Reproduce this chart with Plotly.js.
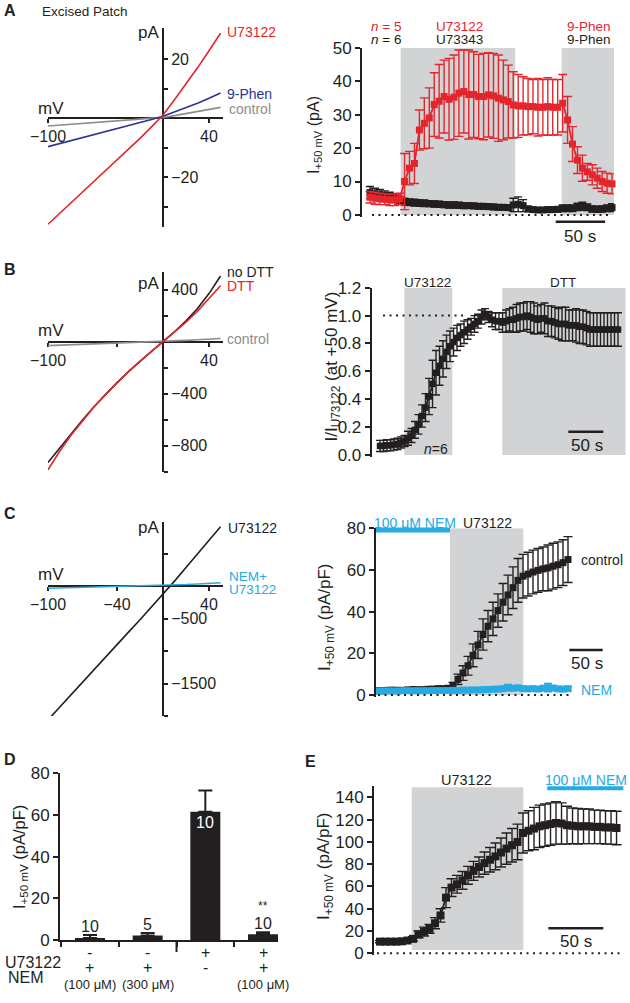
<!DOCTYPE html>
<html><head><meta charset="utf-8">
<script src="https://cdn.plot.ly/plotly-3.0.1.min.js"></script>
<style>html,body{margin:0;padding:0;background:#fff;}#chart{width:630px;height:1003px;}</style>
</head><body><div id="chart"></div>
<script>
const W = 630, H = 1003;
const fx = px => px / W;
const fy = py => 1 - py / H;
const FONT = 'Arial, "Liberation Sans", Helvetica, sans-serif';
const INK = '#231f20', RED = '#e5252c', NAVY = '#2e3192', GREY = '#8c8c8c', CYAN = '#27aae1', SHADE = '#d1d3d4';

// ---------- Panels A–C (left): current–voltage relations (mV, pA) ----------
const ivVoltage   = [-100,-90,-80,-70,-60,-50,-40,-30,-20,-10,0,10,20,30,40,50];
const ivA_control = [-2.7,-2.4,-2.1,-1.9,-1.6,-1.3,-1.05,-0.8,-0.5,-0.2,0.2,0.8,1.5,2.2,2.9,3.6];
const ivA_9Phen   = [-9.7,-8.7,-7.7,-6.7,-5.7,-4.7,-3.7,-2.7,-1.7,-0.5,0.6,2.0,3.5,5.0,6.7,8.5];
const ivA_U73122  = [-36,-32.4,-28.8,-25.2,-21.6,-18,-14.3,-10.6,-6.9,-3,1,6.2,11.5,17,22.8,28.7];
const ivB_control = [-30,-27,-24,-21,-18,-15,-12,-9,-6,-3,0,5,10,15,20,25];
const ivB_noDTT   = [-930,-820,-710,-602,-500,-405,-315,-230,-150,-75,0,75,160,255,370,505];
const ivB_DTT     = [-985,-845,-720,-608,-502,-405,-315,-230,-150,-75,0,72,150,235,330,430];
const ivC_U73122  = [-2060,-1865,-1670,-1475,-1280,-1090,-900,-710,-520,-325,-130,75,285,495,705,910];
const ivC_NEM     = [-35,-31,-26,-21,-17,-12,-8,-4,0,4,8,15,22,31,40,50];

// ---------- Panel A (right): I+50mV (pA), sampled every 5 s ----------
const A_DT = 5;
const aU73122     = [5.3,5.0,4.8,4.7,4.5,4.5,4.8,10,14,15.4,25.4,27.4,29,33,34,35.4,34.6,35.2,36.4,36.9,36,36,35.4,35.4,35.9,35.6,34.9,34.4,33.9,32.9,32.6,32.6,32.4,32.4,32.2,32.2,32.4,32.2,32.2,33.4,28.4,21.2,16.4,14,12.9,12,11,10,9.5,9.3];
const aU73122_sem = [1.7,1.8,1.7,1.6,1.7,1.7,1.7,8.4,5,6,6,7.6,9,9.5,11,10.9,12.2,12.6,12.9,12.4,13.3,12.8,12.6,12.9,12.6,12.7,12.9,11.9,10.9,9.9,9.4,8.7,8.4,8.1,8.6,8.3,8.6,8.3,8.3,8.6,7,5.2,4,3.9,2.5,3,3,3,3,3];
const aU73343     = [6.7,6.4,6.1,5.8,5.5,5.2,4.5,4.0,3.8,3.7,3.6,3.5,3.4,3.3,3.2,3.1,3.0,3.0,2.9,2.8,2.8,2.7,2.6,2.6,2.5,2.4,2.3,2.3,2.2,3.0,3.2,2.8,1.8,1.6,1.5,1.5,1.6,1.6,1.7,2.0,2.0,2.0,2.4,2.6,2.3,1.8,1.7,1.8,2.0,2.2];
const aU73343_sem = [1.8,1.6,1.5,1.4,1.3,1.2,1.1,1.0,1.0,1.0,1.0,1.0,0.9,0.9,0.9,0.9,0.9,0.9,0.9,0.9,0.8,0.8,0.8,0.8,0.8,0.8,0.8,0.8,0.8,2.0,2.2,1.8,0.8,0.7,0.7,0.7,0.7,0.8,0.8,1.0,1.0,1.0,1.1,1.2,1.0,0.9,0.9,0.9,1.0,1.2];
const aApplications = [[31, 147], [194, 247]];   // s: U73122/U73343, 9-Phen

// ---------- Panel B (right): I / I_U73122 at +50 mV, every 5 s ----------
const B_DT = 5;
const bNorm = [0.065,0.065,0.07,0.07,0.075,0.08,0.09,0.1,0.12,0.14,0.18,0.22,0.28,0.34,0.42,0.51,0.59,0.64,0.69,0.74,0.78,0.81,0.84,0.86,0.88,0.9,0.92,0.94,0.96,0.99,1.01,0.99,0.97,0.96,0.96,0.95,0.96,0.97,0.97,0.98,0.99,0.99,1.0,0.99,0.98,0.97,0.98,0.98,0.96,0.96,0.95,0.94,0.94,0.94,0.93,0.93,0.93,0.92,0.92,0.91,0.9,0.9,0.9,0.9,0.9,0.9,0.9,0.9,0.9];
const bNorm_sem = [0.04,0.04,0.04,0.04,0.04,0.04,0.04,0.04,0.05,0.05,0.06,0.07,0.08,0.1,0.13,0.17,0.16,0.14,0.13,0.12,0.11,0.1,0.09,0.08,0.08,0.07,0.06,0.06,0.05,0.05,0.04,0.04,0.05,0.06,0.06,0.07,0.08,0.08,0.09,0.1,0.1,0.1,0.1,0.11,0.11,0.1,0.1,0.11,0.11,0.11,0.11,0.11,0.12,0.12,0.11,0.11,0.12,0.12,0.12,0.12,0.12,0.12,0.12,0.12,0.12,0.12,0.12,0.12,0.12];
const bApplications = [[34.7, 103.3], [174.7, 351]];   // s: U73122, DTT

// ---------- Panel C (right): I+50mV (pA/pF), every 7.5 s ----------
const C_DT = 7.5;
const cControl     = [2.0,2.0,2.2,2.3,2.2,2.2,2.4,2.6,2.5,2.5,2.7,2.8,3.0,3.0,3.2,4.5,7.5,10.5,14,19,24,29,33,36.5,40.5,44.5,48,51.5,55,57,58,59,59.8,60.5,61,61.8,62.5,63.5,65];
const cControl_sem = [0.8,0.8,0.8,0.8,0.8,0.8,0.8,0.8,0.8,0.8,0.8,0.8,0.8,0.8,0.8,1.5,2.5,3.5,4.5,5.5,6.5,7.5,7.5,8,8,9,9.5,10,10.5,10.5,10.5,10.5,10.5,10.5,11,11,11,11,11];
const cNEM         = [1.8,1.8,1.9,1.9,1.9,2.0,2.0,2.0,2.0,2.0,2.0,2.1,2.1,2.1,2.1,2.2,2.2,2.3,2.3,2.4,2.4,2.5,2.6,2.7,2.8,3.0,3.5,3.2,3.4,3.0,2.9,3.0,2.8,3.2,3.5,3.3,2.9,2.8,3.0];
const cNEM_sem     = [0.3,0.3,0.3,0.3,0.3,0.3,0.3,0.3,0.3,0.3,0.3,0.3,0.3,0.3,0.3,0.3,0.3,0.3,0.3,0.3,0.4,0.5,0.5,0.6,0.7,0.8,1.5,1.0,0.8,0.8,0.7,0.8,0.8,0.9,2.0,1.0,0.8,0.8,0.8];
const cU73122 = [108, 218];   // s
const cNEMpre = [-3, 108];    // s

// ---------- Panel D: summary bars ----------
const dGroups  = ['NEM 100 µM', 'NEM 300 µM', 'U73122', 'U73122 + NEM 100 µM'];
const dMean    = [0.9, 2.2, 61.5, 2.7];
const dSEM     = [1.5, 1.2, 10.2, 1.0];
const dN       = ['10', '5', '10', '10'];
const dU73122  = ['-', '-', '+', '+'];
const dNEM     = ['+', '+', '-', '+'];
const dConc    = ['(100 μM)', '(300 μM)', '', '(100 μM)'];

// ---------- Panel E: I+50mV (pA/pF), every 5 s ----------
const E_DT = 5;
const eMean = [10.5,10.5,10.5,10.5,10.8,11.5,13,17,19.5,22,27,34,50,59,62,65.5,70,74,77.5,81,84,87,90.5,94,97,100,108,110,112,114,115,116,117,116.5,115,114.5,114,114,114,113.5,113.5,113,113,112.5];
const eSEM  = [1,1,1,1,1,1.5,2,3,4,4,5,6,9,8,8,8,8,8.5,9,10,11,12,13,14,15,16,18,18,19,19,19,19,19,18.5,17,16,16,15.5,15.5,15,15,15,15,15];
const eU73122 = [28.8, 130.3];
const eNEM    = [152, 221.2];

// ---------- helpers ----------
const tf = (s) => ({family: FONT, size: s, color: INK});
const base = {showgrid:false, zeroline:false, fixedrange:true, showline:true, linecolor:INK, linewidth:2,
  ticks:'outside', tickcolor:INK, tickwidth:2, ticklen:5, tickfont: tf(17)};
const minorT = (vals) => ({tickvals: vals, ticks:'outside', ticklen:4, tickwidth:2, tickcolor:INK, showgrid:false});
const ivX = (posPx, vals, minor) => Object.assign({}, base, {domain:[fx(48), fx(222.8)], range:[-100, 52],
  anchor:'free', position: fy(posPx), tickmode:'array', tickvals: vals, ticklen:4, tickfont: tf(16),
  layer:'below traces', minor: minorT(minor)});
const ivY = (topPx, botPx, range, vals, minor) => Object.assign({}, base, {domain:[fy(botPx), fy(topPx)], range: range,
  anchor:'free', position: fx(163), side:'right', tickmode:'array', tickvals: vals, ticklen:4, tickfont: tf(16),
  layer:'below traces', minor: minorT(minor)});
const hidX = (l, r, range) => ({domain:[fx(l), fx(r)], range: range, visible:false, fixedrange:true});
const lab = (text, px, py, size, color, xa, extra) => Object.assign({text: text, xref:'paper', yref:'paper',
  x: fx(px), y: fy(py), xanchor: xa || 'center', yanchor:'middle', showarrow:false, borderpad:0,
  font:{family: FONT, size: size, color: color || INK}}, extra || {});
const rot = {textangle: -90};

function tc(y, sem, dt, ax, color, msize, cap) {
  return {type:'scatter', mode:'lines+markers', x0:0, dx:dt, y:y, xaxis:'x'+ax, yaxis:'y'+ax,
    line:{color:color, width:1.8}, marker:{symbol:'square', size:msize, color:color},
    error_y:{type:'data', array:sem, color:color, thickness:1.4, width:cap}, cliponaxis:false};
}
function iv(y, ax, color) {
  return {type:'scatter', mode:'lines', x:ivVoltage, y:y, xaxis:'x'+ax, yaxis:'y'+ax, line:{color:color, width:1.6}};
}

const traces = [
  iv(ivA_control, '', GREY), iv(ivA_9Phen, '', NAVY), iv(ivA_U73122, '', RED),
  tc(aU73343, aU73343_sem, A_DT, '2', INK, 7, 4), tc(aU73122, aU73122_sem, A_DT, '2', RED, 7, 4.5),
  iv(ivB_control, '3', GREY), iv(ivB_noDTT, '3', INK), iv(ivB_DTT, '3', RED),
  tc(bNorm, bNorm_sem, B_DT, '4', INK, 6.5, 4),
  iv(ivC_U73122, '5', INK), iv(ivC_NEM, '5', CYAN),
  tc(cControl, cControl_sem, C_DT, '6', INK, 7, 4.5), tc(cNEM, cNEM_sem, C_DT, '6', CYAN, 7, 4),
  {type:'bar', x:dGroups, y:dMean, xaxis:'x7', yaxis:'y7', width:0.52, marker:{color:INK},
   error_y:{type:'data', symmetric:false, array:dSEM, arrayminus:[0,0,0,0], color:INK, thickness:2, width:7}},
  tc(eMean, eSEM, E_DT, '8', INK, 8, 5)
];
traces.forEach(t => { t.hoverinfo = 'skip'; t.showlegend = false; });
[0, 1, 2].forEach(i => { traces[i].xaxis = 'x'; traces[i].yaxis = 'y'; });

const shapes = [];
const band = (ax, x, y0, y1) => shapes.push({type:'rect', xref:'x'+ax, yref:'y'+ax, x0:x[0], x1:x[1], y0:y0, y1:y1,
  fillcolor:SHADE, line:{width:0}, layer:'below'});
const dots = (ax, x0, x1, y) => shapes.push({type:'line', xref:'x'+ax, yref:'y'+ax, x0:x0, x1:x1, y0:y, y1:y,
  line:{color:INK, width:2, dash:'2px,4.5px'}});
const hbar = (ax, x0, x1, py, color, w) => shapes.push({type:'line', xref:'x'+ax, yref:'paper', x0:x0, x1:x1,
  y0:fy(py), y1:fy(py), line:{color:color, width:w}});

aApplications.forEach(a => band('2', a, 0, 50));
bApplications.forEach(a => band('4', a, 0, 1.2));
band('6', cU73122, 0, 80);
band('8', eU73122, 3, 149);
dots('2', 2, 245, 0); dots('4', 4.3, 124.3, 1); dots('6', 0, 288, 0); dots('8', -2.7, 220, 0);
hbar('2', 188, 238, 221.7, INK, 2.5);
hbar('4', 269, 319, 431.7, INK, 2.5);
hbar('6', 287, 337, 650, INK, 2.5);
hbar('8', 153, 203, 928.3, INK, 2.5);
hbar('6', cNEMpre[0], cNEMpre[1], 530, CYAN, 5);
hbar('8', eNEM[0], eNEM[1], 788.3, CYAN, 4);
// longer separator tick between the NEM-only and U73122 groups in panel D
shapes.push({type:'line', xref:'x7', yref:'paper', x0:1.5, x1:1.5, y0:fy(940), y1:fy(952), line:{color:INK, width:2}});

const ann = [
  // A left
  lab('<b>A</b>', 3, 10, 16, INK, 'left'),
  lab('Excised Patch', 41, 11, 13.5, INK, 'left'),
  lab('pA', 160, 32, 17, INK, 'right'),
  lab('mV', 37, 108, 17, INK, 'left'),
  lab('U73122', 226, 32, 14, RED, 'left'),
  lab('9-Phen', 226, 94, 14, NAVY, 'left'),
  lab('control', 228, 109, 14, GREY, 'left'),
  // A right
  lab('<i>n</i> = 5', 386, 26.5, 13.5, RED), lab('<i>n</i> = 6', 386, 40, 13.5, INK),
  lab('U73122', 459, 26.5, 13.5, RED), lab('U73343', 459, 40, 13.5, INK),
  lab('9-Phen', 589, 26.5, 13.5, RED), lab('9-Phen', 589, 40, 13.5, INK),
  lab('I<sub>+50 mV</sub> (pA)', 315, 135, 16, INK, 'center', rot),
  lab('50 s', 580, 236, 17),
  // B left
  lab('<b>B</b>', 3, 270, 16, INK, 'left'),
  lab('pA', 160, 283.5, 17, INK, 'right'),
  lab('mV', 37, 331, 17, INK, 'left'),
  lab('no DTT', 226, 272, 14, INK, 'left'),
  lab('DTT', 226, 286, 14, RED, 'left'),
  lab('control', 226, 339, 14, GREY, 'left'),
  // B right
  lab('U73122', 427, 283, 13.5), lab('DTT', 563, 283, 13.5),
  lab('<i>n</i>=6', 435.5, 449, 14),
  lab('50 s', 587, 445.5, 17),
  lab('I/I<sub>U73122</sub> (at +50 mV)', 332.5, 367, 17, INK, 'center', rot),
  // C left
  lab('<b>C</b>', 3, 513, 16, INK, 'left'),
  lab('pA', 160, 527.5, 17, INK, 'right'),
  lab('mV', 37, 574.5, 17, INK, 'left'),
  lab('U73122', 227, 528, 14, INK, 'left'),
  lab('NEM+', 228, 576.5, 13.5, CYAN, 'left'),
  lab('U73122', 228, 589, 13.5, CYAN, 'left'),
  // C right
  lab('100 μM NEM', 415, 522.5, 14, CYAN), lab('U73122', 487.5, 522.5, 14),
  lab('control', 580, 560, 14, INK, 'left'),
  lab('NEM', 580, 690, 14, CYAN, 'left'),
  lab('50 s', 587, 663, 17),
  lab('I<sub>+50 mV</sub> (pA/pF)', 326, 618, 17, INK, 'center', rot),
  // D
  lab('<b>D</b>', 3, 759, 16, INK, 'left'),
  lab('I<sub>+50 mV</sub> (pA/pF)', 20, 857, 16.5, INK, 'center', rot),
  lab('U73122', 4, 962, 16, INK, 'left'),
  lab('NEM', 7, 977, 16, INK, 'left'),
  // E
  lab('<b>E</b>', 304, 761, 16, INK, 'left'),
  lab('U73122', 466, 780, 14.5), lab('100 μM NEM', 586, 780, 14, CYAN),
  lab('50 s', 576, 941.5, 17),
  lab('I<sub>+50 mV</sub> (pA/pF)', 325, 867, 17, INK, 'center', rot)
];
dGroups.forEach((g, i) => {
  const inside = dMean[i] > 30;
  ann.push({text: dN[i], xref:'x7', yref:'y7', x:g, y: inside ? dMean[i] : dMean[i] + dSEM[i],
    yanchor: inside ? 'top' : 'bottom', xanchor:'center', showarrow:false, yshift:-1, borderpad:0,
    font:{family:FONT, size:16, color: inside ? '#ffffff' : INK}});
  ann.push({text: dU73122[i], xref:'x7', yref:'paper', x:g, y:fy(962), showarrow:false, borderpad:0, font:tf(16)});
  ann.push({text: dNEM[i], xref:'x7', yref:'paper', x:g, y:fy(977), showarrow:false, borderpad:0, font:tf(16)});
  if (dConc[i]) ann.push({text: dConc[i], xref:'x7', yref:'paper', x:g, y:fy(993), showarrow:false, borderpad:0, font:tf(13)});
});
ann.push({text:'**', xref:'x7', yref:'paper', x:dGroups[3], y:fy(914), showarrow:false, borderpad:0, font:tf(12)});

const layout = {
  width: W, height: H, margin:{l:0, r:0, t:0, b:0}, showlegend:false,
  paper_bgcolor:'#ffffff', plot_bgcolor:'rgba(0,0,0,0)', font:{family:FONT, color:INK},
  xaxis:  ivX(118, [-100, 40], []),
  yaxis:  ivY(28, 227.2, [-37, 30.5], [-20, 20], [-30, -10, 10]),
  xaxis3: ivX(341.7, [-100, 40], [-40]),
  yaxis3: ivY(271.5, 471.7, [-1000, 540], [-800, -400, 400], [-1000, -600, -200, 200]),
  xaxis5: ivX(586, [-100, -40, 40], []),
  yaxis5: ivY(521.65, 716, [-2000, 990], [-1500, -500], [-2000, -1000, 500]),
  xaxis2: hidX(362, 614, [-8.1, 247]),
  yaxis2: Object.assign({}, base, {domain:[fy(217), fy(47.7)], range:[-0.6, 50], anchor:'x2', tickvals:[0,10,20,30,40,50]}),
  xaxis4: hidX(371.7, 625.7, [-11.9, 351]),
  yaxis4: Object.assign({}, base, {domain:[fy(456.7), fy(287.7)], range:[-0.012, 1.2], anchor:'x4',
    tickvals:[0,0.2,0.4,0.6,0.8,1.0,1.2], tickformat:'.1f'}),
  xaxis6: hidX(376, 625, [-3, 370.5]),
  yaxis6: Object.assign({}, base, {domain:[fy(697), fy(528.3)], range:[-1, 80], anchor:'x6', tickvals:[0,20,40,60,80]}),
  xaxis7: Object.assign({}, base, {domain:[fx(60), fx(278)], range:[-0.52, 3.26], type:'category', anchor:'y7',
    tickson:'boundaries', showticklabels:false, ticklen:5}),
  yaxis7: Object.assign({}, base, {domain:[fy(940), fy(773.3)], range:[0, 80], anchor:'x7', tickvals:[0,20,40,60,80]}),
  xaxis8: hidX(374, 625, [-5.45, 222.7]),
  yaxis8: Object.assign({}, base, {domain:[fy(955), fy(786.2)], range:[-1.5, 150], anchor:'x8',
    tickvals:[0,20,40,60,80,100,120,140]}),
  shapes: shapes, annotations: ann
};

Plotly.newPlot('chart', traces, layout, {staticPlot:true, displayModeBar:false});
</script></body></html>
